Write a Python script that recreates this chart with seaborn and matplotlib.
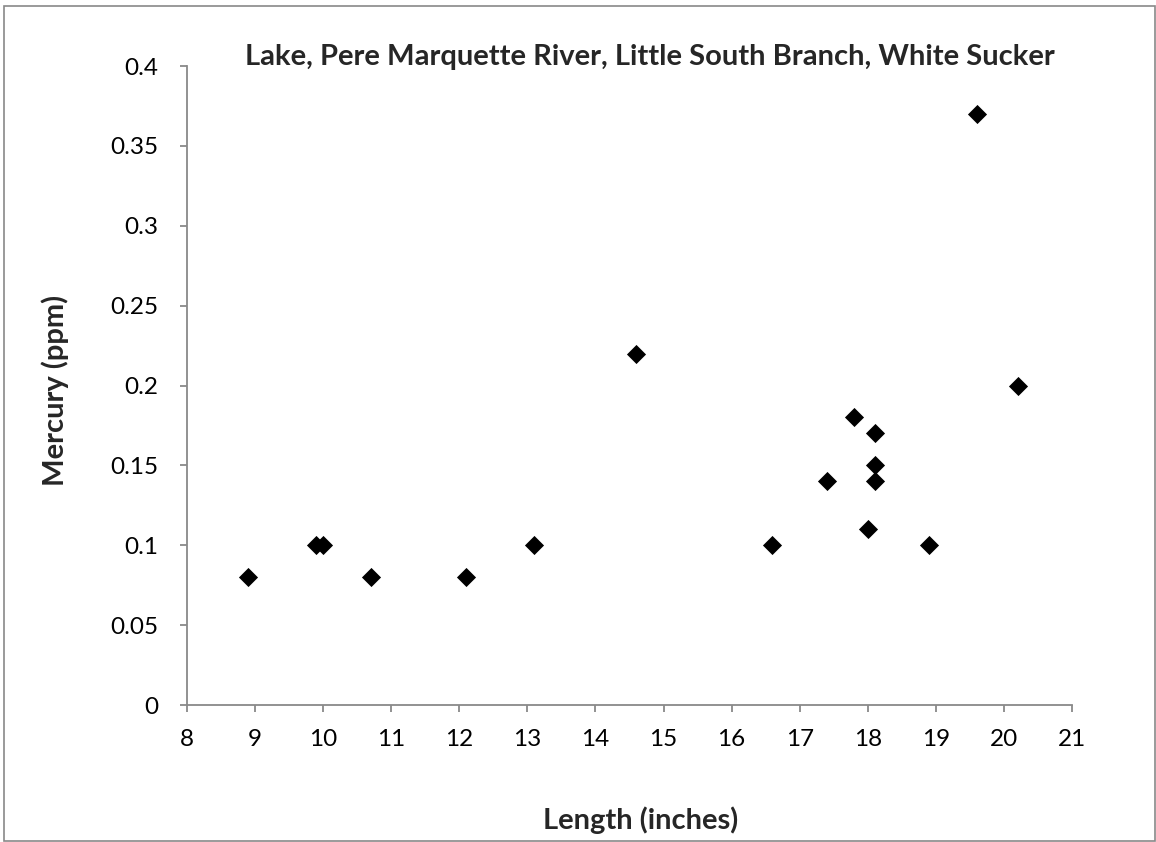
import matplotlib
matplotlib.use("Agg")
import matplotlib.pyplot as plt
import seaborn as sns
import pandas as pd
from matplotlib.patches import Rectangle

length_in = [8.9, 9.9, 10.0, 10.7, 12.1, 13.1, 14.6, 16.6, 17.4, 17.8, 18.1, 18.1, 18.1, 18.0, 18.9, 19.6, 20.2]
mercury_ppm = [0.08, 0.10, 0.10, 0.08, 0.08, 0.10, 0.22, 0.10, 0.14, 0.18, 0.17, 0.15, 0.14, 0.11, 0.10, 0.37, 0.20]
x_ticks = list(range(8, 22))
y_ticks = [0, 0.05, 0.1, 0.15, 0.2, 0.25, 0.3, 0.35, 0.4]
y_tick_labels = ["0", "0.05", "0.1", "0.15", "0.2", "0.25", "0.3", "0.35", "0.4"]
title = "Lake, Pere Marquette River, Little South Branch, White Sucker"

df = pd.DataFrame({"Length": length_in, "Mercury": mercury_ppm})

sns.set_style("white")
plt.rcParams['font.family'] = ['Lato', 'DejaVu Sans']

fig = plt.figure(figsize=(11.56, 8.42), dpi=100)
ax = fig.add_axes([0.1618, 0.1627, 0.9273 - 0.1618, 0.9216 - 0.1627])

sns.scatterplot(data=df, x="Length", y="Mercury", marker="D", s=95,
                color="black", edgecolor="black", linewidth=0, ax=ax, zorder=3)

ax.set_xlim(8, 21)
ax.set_ylim(0, 0.4)
ax.set_xticks(x_ticks)
ax.set_xticklabels([str(t) for t in x_ticks])
ax.set_yticks(y_ticks)
ax.set_yticklabels(y_tick_labels)

grey = "#898989"
for side in ["top", "right"]:
    ax.spines[side].set_visible(False)
for side in ["left", "bottom"]:
    ax.spines[side].set_color(grey)
    ax.spines[side].set_linewidth(1.3)
ax.tick_params(axis="both", direction="out", length=5, width=1.3, color=grey,
               labelsize=17.5, labelcolor="black")
ax.tick_params(axis="y", pad=15.5)
ax.tick_params(axis="x", pad=12)
ax.xaxis.set_ticks_position("bottom")
ax.yaxis.set_ticks_position("left")

ax.set_xlabel("")
ax.set_ylabel("")
fig.text(0.5623, 0.932, title, ha="center", va="center", fontsize=21, fontweight="bold")
fig.text(641 / 1156, (842 - 820) / 842, "Length (inches)", ha="center", va="center",
         fontsize=21, fontweight="bold")
fig.text(55 / 1156, (842 - 390) / 842, "Mercury (ppm)", ha="center", va="center",
         fontsize=21, fontweight="bold", rotation=90)

fig.patches.append(Rectangle((0.0035, 0.0012), 0.9957, 0.9917, transform=fig.transFigure,
                             fill=False, edgecolor=grey, linewidth=1.2))

fig.savefig("out.png", dpi=100)
